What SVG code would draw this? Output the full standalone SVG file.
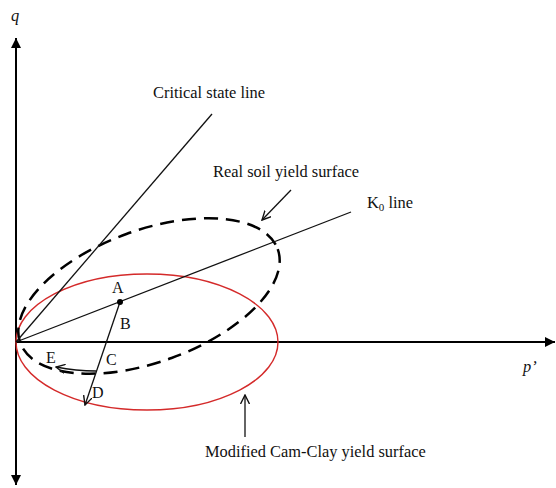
<svg xmlns="http://www.w3.org/2000/svg" width="556" height="488" viewBox="0 0 556 488">
<style>
  text { font-family: "Liberation Serif", "Times New Roman", serif; font-size: 16.4px; fill: #111; }
  .it { font-style: italic; }
  .pt { font-size: 16px; }
  .ln { stroke: #111; stroke-width: 1.3; fill: none; }
  .ax { stroke: #000; stroke-width: 2; fill: none; }
</style>
<defs>
  <marker id="tri" viewBox="0 0 10 10" refX="10" refY="5" markerWidth="10" markerHeight="10" markerUnits="userSpaceOnUse" orient="auto">
    <path d="M0,0 L10,5 L0,10 Z" fill="#000"/>
  </marker>
  <marker id="open" viewBox="0 0 10 10" refX="9" refY="5" markerWidth="10" markerHeight="10" markerUnits="userSpaceOnUse" orient="auto">
    <path d="M0,0.5 L9,5 L0,9.5" fill="none" stroke="#111" stroke-width="1.4"/>
  </marker>
</defs>
<rect width="556" height="488" fill="#fff"/>
<g id="axes">
  <line class="ax" x1="16" y1="342" x2="16" y2="38" marker-end="url(#tri)"/>
  <line class="ax" x1="16" y1="342" x2="16" y2="485" marker-end="url(#tri)"/>
  <line class="ax" x1="16" y1="342" x2="555" y2="342" marker-end="url(#tri)"/>
  <text class="it" x="11" y="21">q</text>
  <text class="it" x="523" y="372">p’</text>
</g>
<g id="mcc-surface">
  <ellipse cx="147" cy="342" rx="131" ry="68" fill="none" stroke="#d42a2a" stroke-width="1.4"/>
</g>
<g id="real-surface">
  <ellipse cx="149" cy="296" rx="137" ry="66" transform="rotate(-20 149 296)" fill="none" stroke="#000" stroke-width="2.5" stroke-dasharray="14 8"/>
</g>
<g id="connectors">
  <line class="ln" x1="16" y1="342" x2="212" y2="114"/>
  <line class="ln" x1="16" y1="342" x2="351" y2="212"/>
  <line class="ln" x1="120" y1="302" x2="85" y2="405" marker-end="url(#open)"/>
  <path class="ln" d="M96,371 Q76,371 56,367" marker-end="url(#open)"/>
  <line class="ln" x1="291" y1="190" x2="262" y2="220" marker-end="url(#open)"/>
  <line class="ln" x1="245" y1="437" x2="245" y2="395" marker-end="url(#open)"/>
</g>
<g id="point-A">
  <circle cx="120" cy="302" r="3" fill="#000"/>
  <text class="pt" x="112" y="293">A</text>
</g>
<g id="point-B"><text class="pt" x="120" y="329">B</text></g>
<g id="point-C"><text class="pt" x="106" y="365">C</text></g>
<g id="point-D"><text class="pt" x="92" y="398">D</text></g>
<g id="point-E"><text class="pt" x="46" y="363">E</text></g>
<g id="labels">
  <text x="153" y="98">Critical state line</text>
  <text x="213" y="177">Real soil yield surface</text>
  <text x="367" y="208">K<tspan font-size="11" dy="3">0</tspan><tspan dy="-3"> line</tspan></text>
  <text x="205" y="457">Modified Cam-Clay yield surface</text>
</g>
</svg>
